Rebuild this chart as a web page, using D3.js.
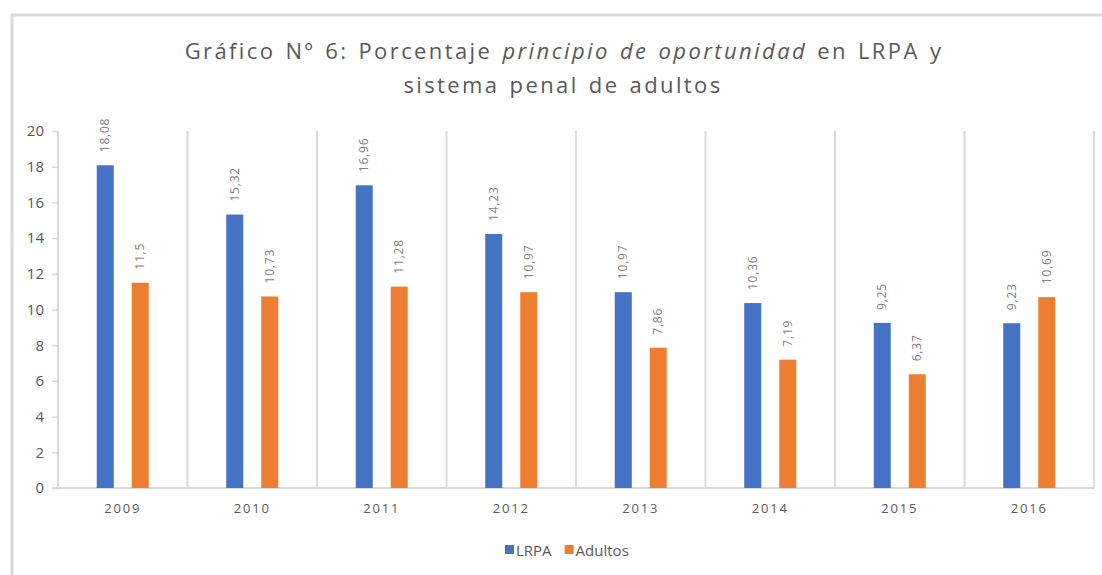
<!DOCTYPE html>
<html>
<head>
<meta charset="utf-8">
<script src="https://cdn.jsdelivr.net/npm/d3@7"></script>
<style>
  body { margin: 0; background: #fff; }
  svg { display: block; font-family: "Open Sans", sans-serif; }
</style>
</head>
<body>
<svg id="chart" width="1102" height="575"></svg>
<script>
const years = ['2009', '2010', '2011', '2012', '2013', '2014', '2015', '2016']
const lrpa = [18.08, 15.32, 16.96, 14.23, 10.97, 10.36, 9.25, 9.23]
const adultos = [11.5, 10.73, 11.28, 10.97, 7.86, 7.19, 6.37, 10.69]
const seriesNames = ['LRPA', 'Adultos']
const yTicks = [0, 2, 4, 6, 8, 10, 12, 14, 16, 18, 20]

const colors = { LRPA: '#4472c4', Adultos: '#ed7d31' }
const textColor = '#595959'
const gridColor = '#d9d9d9'

const svg = d3.select('#chart')

// outer frame (only top and left are visible in the picture)
svg.append('line').attr('x1', 11).attr('x2', 1102).attr('y1', 15).attr('y2', 15)
    .style('stroke', '#d9d9d9').style('stroke-width', 3)
svg.append('line').attr('x1', 12).attr('x2', 12).attr('y1', 14).attr('y2', 575)
    .style('stroke', '#d9d9d9').style('stroke-width', 3)

// title
const title = svg.append('text')
    .attr('x', 564).attr('y', 59)
    .attr('text-anchor', 'middle')
    .style('font-size', '22px')
    .style('letter-spacing', '2.4px')
    .style('word-spacing', '2px')
    .style('fill', textColor)
title.append('tspan').text('Gráfico Nº 6: Porcentaje ')
title.append('tspan').style('font-style', 'italic').text('principio de oportunidad')
title.append('tspan').text('  en LRPA y')
svg.append('text')
    .attr('x', 563).attr('y', 93)
    .attr('text-anchor', 'middle')
    .style('font-size', '22px')
    .style('letter-spacing', '2.4px')
    .style('word-spacing', '2px')
    .style('fill', textColor)
    .text('sistema penal de adultos')

const pLeft = 58, pRight = 1094, pTop = 131, pBottom = 488

const x = d3.scaleBand().domain(years).range([pLeft, pRight])
const y = d3.scaleLinear().domain([0, 20]).range([pBottom, pTop])
const barW = 17, barGap = 18

// vertical category separators
const bounds = years.map(d => x(d)).concat([pRight])
svg.append('g').selectAll('line').data(bounds).enter().append('line')
    .attr('x1', d => d).attr('x2', d => d)
    .attr('y1', pTop).attr('y2', pBottom)
    .style('stroke', gridColor).style('stroke-width', 2)

// y axis
const yAxis = svg.append('g')
    .attr('transform', 'translate(' + pLeft + ',0)')
    .call(d3.axisLeft(y).tickValues(yTicks).tickSize(6).tickPadding(8))
yAxis.select('.domain').remove()
yAxis.selectAll('line').style('stroke', gridColor).style('stroke-width', 1.5)
yAxis.selectAll('text').style('font-size', '15px').style('fill', textColor)
    .style('font-family', '"Open Sans", sans-serif')

// x axis line
svg.append('line').attr('x1', pLeft - 6).attr('x2', pRight + 1)
    .attr('y1', pBottom).attr('y2', pBottom)
    .style('stroke', gridColor).style('stroke-width', 2)

// x labels
svg.append('g').selectAll('text').data(years).enter().append('text')
    .attr('x', d => x(d) + x.bandwidth() / 2)
    .attr('y', 513)
    .attr('text-anchor', 'middle')
    .style('font-size', '13px')
    .style('letter-spacing', '1.8px')
    .style('fill', textColor)
    .text(d => d)

// bars
const rows = years.map((yr, i) => ({ year: yr, LRPA: lrpa[i], Adultos: adultos[i] }))
seriesNames.forEach((name, si) => {
    const off = (x.bandwidth() - (2 * barW + barGap)) / 2 + si * (barW + barGap)
    const g = svg.append('g')
    g.selectAll('rect').data(rows).enter().append('rect')
        .attr('x', d => x(d.year) + off)
        .attr('y', d => y(d[name]))
        .attr('width', barW)
        .attr('height', d => pBottom - y(d[name]))
        .style('fill', colors[name])
    g.selectAll('text').data(rows).enter().append('text')
        .attr('transform', d => 'translate(' + (x(d.year) + off + barW / 2 + 4) + ',' + (y(d[name]) - 13) + ') rotate(-90)')
        .style('font-size', '12px')
        .style('fill', '#7f7f7f')
        .style('letter-spacing', '0.8px')
        .text(d => String(d[name]).replace('.', ','))
})

// legend
const legend = svg.append('g').attr('transform', 'translate(505,550)')
let lx = 0
seriesNames.forEach(name => {
    legend.append('rect').attr('x', lx).attr('y', -5).attr('width', 9).attr('height', 9)
        .style('fill', colors[name])
    const t = legend.append('text').attr('x', lx + 11).attr('y', 5.5)
        .style('font-size', '15px').style('fill', textColor).text(name)
    lx += 11 + t.node().getComputedTextLength() + 13
})
</script>
</body>
</html>
